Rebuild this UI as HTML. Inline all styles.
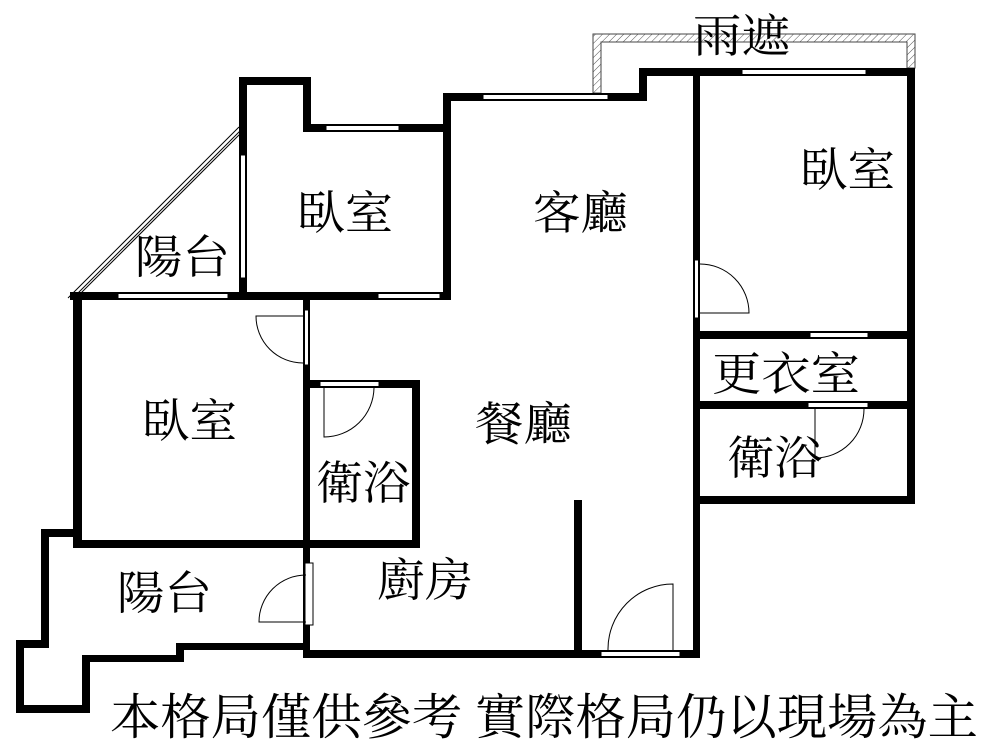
<!DOCTYPE html>
<html><head><meta charset="utf-8"><style>html,body{margin:0;padding:0;background:#fff}svg{display:block}</style></head>
<body>
<svg width="1000" height="750" viewBox="0 0 1000 750" xmlns="http://www.w3.org/2000/svg">
<defs>
<pattern id="h" width="5" height="5" patternUnits="userSpaceOnUse" patternTransform="rotate(45)"><line x1="0" y1="0" x2="0" y2="5" stroke="#555" stroke-width="1"/></pattern>
</defs>
<!-- canopy 雨遮 -->
<path d="M593,93 V34 H915 V68 H907 V42 H601 V93 Z" fill="url(#h)" stroke="#444" stroke-width="1"/>
<g fill="#000">
<!-- top-left bedroom -->
<rect x="239" y="77" width="72" height="8"/>
<rect x="239" y="77" width="8" height="223"/>
<rect x="303" y="77" width="8" height="55"/>
<rect x="303" y="124" width="148" height="8"/>
<rect x="443" y="93" width="8" height="207"/>
<rect x="443" y="93" width="204" height="8"/>
<rect x="639" y="68" width="8" height="33"/>
<rect x="639" y="68" width="276" height="8"/>
<rect x="907" y="68" width="8" height="436"/>
<rect x="693" y="68" width="7" height="590"/>
<rect x="693" y="331" width="222" height="8"/>
<rect x="693" y="401" width="222" height="8"/>
<rect x="693" y="496" width="222" height="8"/>
<rect x="574" y="500" width="8" height="158"/>
<rect x="303" y="650" width="397" height="8"/>
<!-- mid horizontal -->
<rect x="70" y="292" width="381" height="8"/>
<rect x="73" y="292" width="9" height="256"/>
<rect x="303" y="292" width="7" height="366"/>
<rect x="303" y="380" width="117" height="8"/>
<rect x="412" y="380" width="8" height="168"/>
<rect x="73" y="540" width="347" height="8"/>
<!-- lower balcony -->
<rect x="41" y="529" width="41" height="8"/>
<rect x="41" y="529" width="8" height="119"/>
<rect x="16" y="640" width="33" height="8"/>
<rect x="16" y="640" width="8" height="73"/>
<rect x="16" y="705" width="74" height="8"/>
<rect x="82" y="655" width="8" height="58"/>
<rect x="82" y="655" width="102" height="7"/>
<rect x="176" y="643" width="8" height="19"/>
<rect x="176" y="643" width="134" height="7"/>
</g>
<!-- windows -->
<g fill="#fff" stroke="#000" stroke-width="1">
<rect x="326" y="125.5" width="73" height="5"/>
<rect x="483" y="94.5" width="125" height="5"/>
<rect x="742" y="69.5" width="124" height="5"/>
<rect x="118" y="293.5" width="110" height="5"/>
<rect x="378" y="293.5" width="62" height="5"/>
<rect x="240.5" y="155" width="5" height="123"/>
<rect x="810" y="332.5" width="58" height="5"/>
<rect x="808" y="402.5" width="60" height="5"/>
<rect x="601" y="651.5" width="79" height="5"/>
<rect x="320" y="381.5" width="59" height="5"/>
<rect x="694.5" y="260" width="4" height="58"/>
<rect x="304.5" y="310" width="4" height="55"/>
<rect x="305" y="563" width="8" height="62"/>
</g>
<!-- diagonal balcony -->
<g stroke="#000" stroke-width="1" fill="none">
<line x1="239" y1="127" x2="68" y2="298"/>
<line x1="240" y1="131" x2="72" y2="299"/>
<line x1="240" y1="134" x2="76" y2="298"/>
</g>
<!-- doors -->
<g stroke="#000" stroke-width="1" fill="none">
<path d="M303,316 H256 A47,47 0 0 0 303,363"/>
<path d="M700,313 H749 A49,49 0 0 0 700,264"/>
<path d="M815,409 V458 A49,49 0 0 0 864,409"/>
<path d="M673,650 V584 A65,65 0 0 0 608,650"/>
<path d="M324,388 V437 A50,50 0 0 0 374,388"/>
<path d="M306,622 H259 A47,47 0 0 1 306,575"/>
</g>
<!-- labels -->
<g font-family="'Liberation Serif','Noto Serif CJK SC','Noto Serif CJK TC',serif" font-size="46" fill="#000">
<text x="693" y="52" textLength="97" lengthAdjust="spacingAndGlyphs">雨遮</text>
<text x="297" y="229" textLength="96" lengthAdjust="spacingAndGlyphs">臥室</text>
<text x="135" y="273" textLength="95" lengthAdjust="spacingAndGlyphs">陽台</text>
<text x="533" y="229" textLength="95" lengthAdjust="spacingAndGlyphs">客廳</text>
<text x="800" y="186" textLength="95" lengthAdjust="spacingAndGlyphs">臥室</text>
<text x="712" y="390" textLength="148" lengthAdjust="spacingAndGlyphs">更衣室</text>
<text x="727" y="474" textLength="95" lengthAdjust="spacingAndGlyphs">衛浴</text>
<text x="475" y="440" textLength="97" lengthAdjust="spacingAndGlyphs">餐廳</text>
<text x="142" y="437" textLength="95" lengthAdjust="spacingAndGlyphs">臥室</text>
<text x="316" y="499" textLength="94" lengthAdjust="spacingAndGlyphs">衛浴</text>
<text x="117" y="609" textLength="95" lengthAdjust="spacingAndGlyphs">陽台</text>
<text x="377" y="596" textLength="96" lengthAdjust="spacingAndGlyphs">廚房</text>
<text x="110" y="734" font-size="49" textLength="868" lengthAdjust="spacingAndGlyphs">本格局僅供參考 實際格局仍以現場為主</text>
</g>
</svg>
</body></html>
